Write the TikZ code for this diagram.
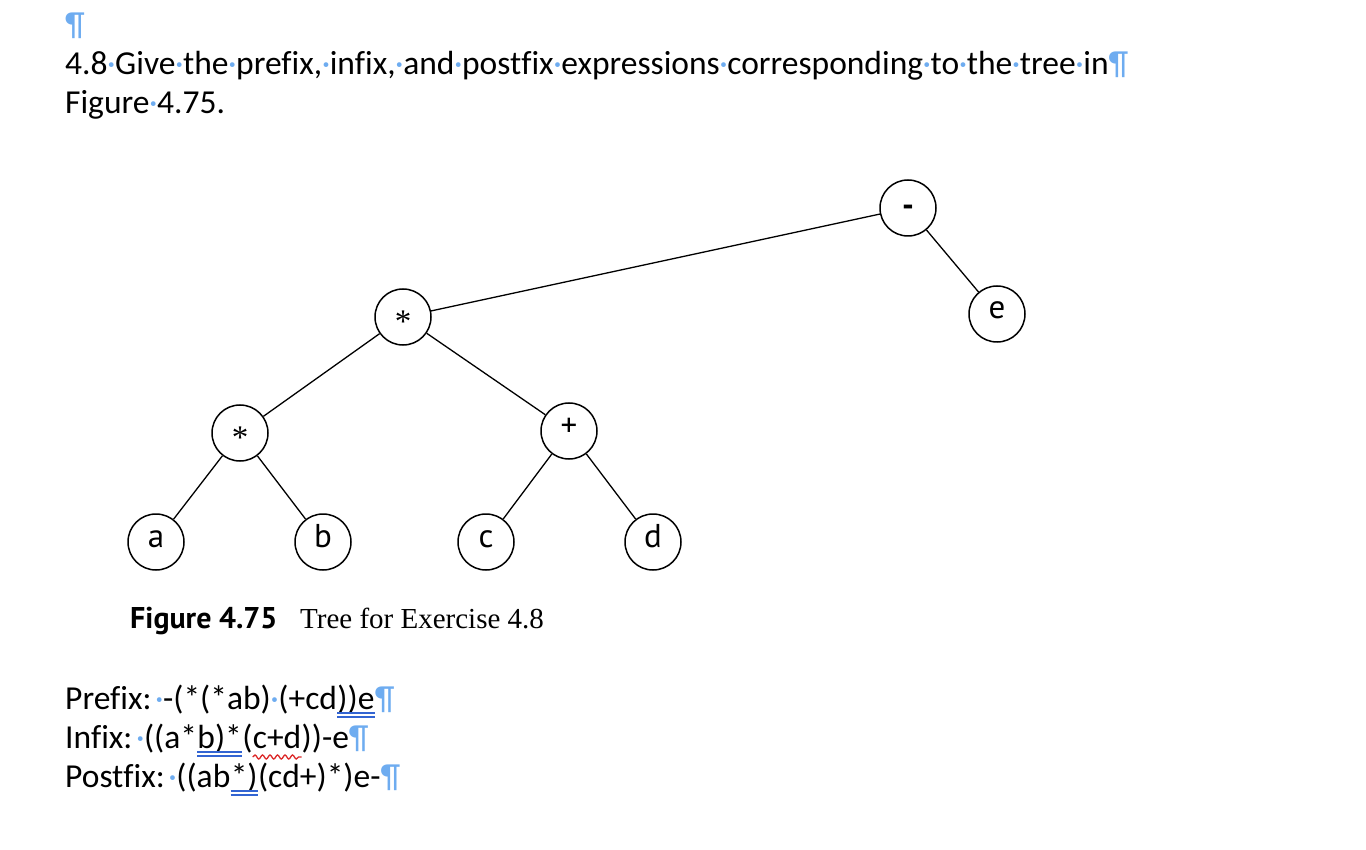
\documentclass[tikz,border=0pt]{standalone}
\usepackage{fontspec}
\usetikzlibrary{decorations.pathmorphing}
\newfontfamily\bodyfont[Ligatures=NoCommon]{Carlito}
\newfontfamily\figsans{PT Sans}
\newfontfamily\figserif{Liberation Serif}
\definecolor{markblue}{RGB}{110,172,240}
\definecolor{ulblue}{RGB}{50,100,210}
\definecolor{wavered}{RGB}{220,40,40}
\newcommand\wsp{\makebox[7.6pt][c]{\textcolor{markblue}{·}}}
\newcommand\pil{\textcolor{markblue}{¶}}
\tikzset{
  treenode/.style={circle, draw, line width=1.5pt, minimum size=56pt, inner sep=0pt,
    text height=10pt, text depth=0pt, font=\figsans\fontsize{33}{33}\selectfont},
  edge/.style={line width=1.3pt},
  body/.style={anchor=base west, inner sep=0pt, font=\bodyfont\fontsize{33.5}{39}\selectfont},
  dblline/.style={ulblue, line width=1.3pt},
  wavyline/.style={wavered, line width=1.3pt, decorate, decoration={snake, amplitude=2pt, segment length=7.5pt}}
}
\begin{document}
\begin{tikzpicture}[x=1pt,y=-1pt]
  \useasboundingbox (0,0) rectangle (1366,850);
  % question
  \node[body] (mark) at (65,36) {\pil};
  \node[body] (question) at (65,75) {4.8\wsp Give\wsp the\wsp prefix,\wsp infix,\wsp and\wsp postfix\wsp expressions\wsp corresponding\wsp to\wsp the\wsp tree\wsp in\pil};
  \node[body] (questionb) at (65,114) {Figure\wsp 4.75.};
  % tree
  \node[treenode] (minus) at (908,208) {\raisebox{-4pt}{\bfseries -}};
  \node[treenode] (e) at (997,314) {e};
  \node[treenode] (times) at (403,317) {\figserif\raisebox{-10.5pt}{*}};
  \node[treenode] (timesb) at (240,433) {\figserif\raisebox{-10.5pt}{*}};
  \node[treenode] (plus) at (569,431) {+};
  \node[treenode] (a) at (156,542) {a};
  \node[treenode] (b) at (323,542) {b};
  \node[treenode] (c) at (486,542) {c};
  \node[treenode] (d) at (653,542) {d};
  \draw[edge] (minus) -- (times);
  \draw[edge] (minus) -- (e);
  \draw[edge] (times) -- (timesb);
  \draw[edge] (times) -- (plus);
  \draw[edge] (timesb) -- (a);
  \draw[edge] (timesb) -- (b);
  \draw[edge] (plus) -- (c);
  \draw[edge] (plus) -- (d);
  % caption
  \node[anchor=base west, inner sep=0pt, font=\figsans\bfseries\fontsize{30}{30}\selectfont] (figno) at (130,628) {Figure 4.75};
  \node[anchor=base west, inner sep=0pt, font=\figserif\fontsize{29}{29}\selectfont] (figtext) at (300,628) {Tree for Exercise 4.8};
  % answers
  \node[body] (prefix) at (65,709) {Prefix:\hspace{4pt}\wsp-(*(*ab)\wsp(+cd};
  \node[body] (prefixu) at (prefix.base east) {))e};
  \node[body] (prefixm) at (prefixu.base east) {\pil};
  \node[body] (infix) at (65,748) {Infix:\hspace{4pt}\wsp((a*};
  \node[body] (infixu) at (infix.base east) {b)*};
  \node[body] (infixb) at (infixu.base east) {(};
  \node[body] (infixw) at (infixb.base east) {c+d};
  \node[body] (infixm) at (infixw.base east) {))-e\pil};
  \node[body] (postfix) at (65,787) {Postfix:\hspace{4pt}\wsp((ab};
  \node[body] (postfixu) at (postfix.base east) {*)};
  \node[body] (postfixm) at (postfixu.base east) {(cd+)*)e-\pil};
  % underlines
  \foreach \u in {prefixu, infixu, postfixu} {
    \draw[dblline] ([yshift=-4pt]\u.base west) -- ([yshift=-4pt]\u.base east);
    \draw[dblline] ([yshift=-8pt]\u.base west) -- ([yshift=-8pt]\u.base east);
  }
  \draw[wavyline] ([yshift=-9pt]infixw.base west) -- ([yshift=-9pt]infixw.base east);
\end{tikzpicture}
\end{document}
